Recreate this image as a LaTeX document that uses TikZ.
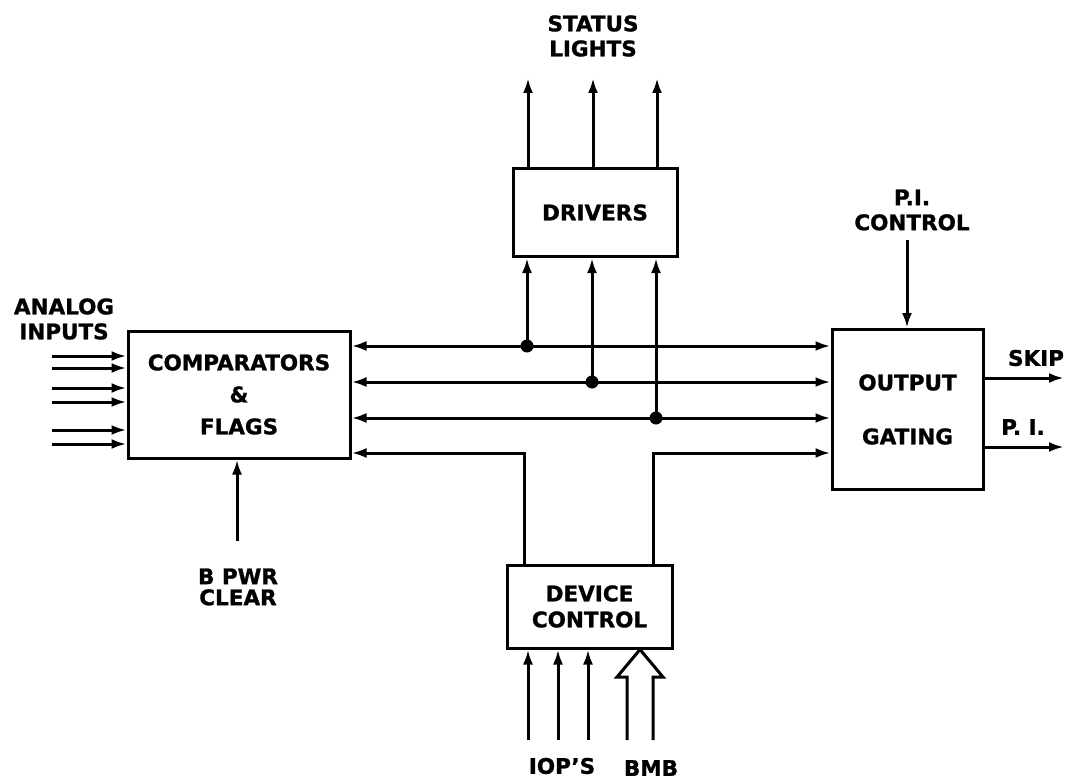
\documentclass[tikz,border=0pt]{standalone}
\usepackage{fontspec}
\setmainfont{DejaVu Sans}[BoldFeatures={FakeBold=1.2}]
\usetikzlibrary{arrows.meta}
\begin{document}
\begin{tikzpicture}[x=1pt,y=-1pt, line width=3pt,
 box/.style={draw, rectangle, inner sep=0pt, align=center, font=\bfseries\fontsize{21.5}{32}\selectfont},
 lbl/.style={inner sep=0pt, align=center, font=\bfseries\fontsize{21.5}{25}\selectfont},
 arr/.style={-{Latex[length=15pt,width=10pt]}},
 darr/.style={{Latex[length=15pt,width=10pt]}-{Latex[length=15pt,width=10pt]}},
 junction/.style={circle, fill, inner sep=0pt, minimum size=13pt}]
\useasboundingbox (0,0) rectangle (1066,781);

% boxes
\node[box, minimum width=222pt, minimum height=127pt] (cmp) at (239,394.5) {COMPARATORS\\\&\\FLAGS};
\node[box, minimum width=164pt, minimum height=88pt] (drv) at (595,212.5) {DRIVERS};
\node[box, minimum width=151pt, minimum height=160pt] (og) at (907.5,409.5) {OUTPUT\\[22pt]GATING};
\node[box, minimum width=165pt, minimum height=83pt, font=\bfseries\fontsize{21.5}{26}\selectfont] (dc) at (589.5,606.5) {DEVICE\\CONTROL};

% labels
\node[lbl] (sl) at (593,36) {STATUS\\LIGHTS};
\node[lbl] (ai) at (64,319) {ANALOG\\INPUTS};
\node[lbl, font=\bfseries\fontsize{21.5}{21}\selectfont] (bpc) at (238,587) {B PWR\\CLEAR};
\node[lbl] (pic) at (912,210) {P.I.\\CONTROL};
\node[lbl] (skip) at (1036,358) {SKIP};
\node[lbl] (pi) at (1023,427) {P. I.};
\node[lbl] (iops) at (562,766) {IOP'S};
\node[lbl] (bmb) at (651,768) {BMB};

% junction coordinates
\coordinate (j1) at (527,346);
\coordinate (j2) at (592,382);
\coordinate (j3) at (656,418);
\coordinate (b4l) at (524,453);
\coordinate (b4r) at (653,453);

% status light outputs
\foreach \x [count=\i] in {528,593,657} {
  \coordinate (s\i) at (\x,78);
  \draw[arr] (drv.north -| s\i) -- (s\i);
}

% bus lines
\draw[darr] (cmp.east |- j1) -- (og.west |- j1);
\draw[darr] (cmp.east |- j2) -- (og.west |- j2);
\draw[darr] (cmp.east |- j3) -- (og.west |- j3);
\foreach \j in {j1,j2,j3} {
  \draw[arr] (\j) -- (drv.south -| \j);
  \node[junction] at (\j) {};
}

% device control to bus
\draw[arr] (dc.north -| b4l) -- (b4l) -- (cmp.east |- b4l);
\draw[arr] (dc.north -| b4r) -- (b4r) -- (og.west |- b4r);

% analog inputs
\foreach \y [count=\i] in {356,368,388,402,430,444} {
  \coordinate (a\i) at (52,\y);
  \draw[arr] (a\i) -- (cmp.west |- a\i);
}

% B PWR CLEAR
\coordinate (bp) at (237,541);
\draw[arr] (bp) -- (cmp.south -| bp);

% P.I. control
\coordinate (pc) at (907,240);
\draw[arr] (pc) -- (og.north -| pc);

% outputs
\coordinate (o1) at (1064,378);
\coordinate (o2) at (1064,447);
\draw[arr] (og.east |- o1) -- (o1);
\draw[arr] (og.east |- o2) -- (o2);

% IOP's
\foreach \x [count=\i] in {528,558,588} {
  \coordinate (io\i) at (\x,740);
  \draw[arr] (io\i) -- (dc.south -| io\i);
}

% BMB wide arrow
\coordinate (bm) at (640,740);
\draw[line join=miter] (627,740) -- (627,677) -- (617,677) -- (dc.south -| bm) -- (663,677) -- (653,677) -- (653,740);
\end{tikzpicture}
\end{document}
